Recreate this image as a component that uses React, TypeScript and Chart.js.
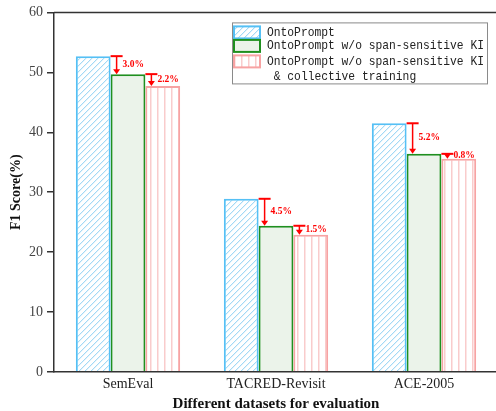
import React, { useEffect, useRef } from "react";
import { Chart, registerables } from "chart.js";

Chart.register(...registerables);

const categories = ["SemEval", "TACRED-Revisit", "ACE-2005"];
const ontoPrompt = [52.7, 28.9, 41.5];
const woSpan = [49.7, 24.4, 36.4];
const woSpanCollective = [47.7, 22.9, 35.6];
const drop1Labels = ["3.0%", "4.5%", "5.2%"];
const drop2Labels = ["2.2%", "1.5%", "0.8%"];
const seriesNames = [
  ["OntoPrompt"],
  ["OntoPrompt w/o span-sensitive KI"],
  ["OntoPrompt w/o span-sensitive KI", " & collective training"],
];
const yTicks = { min: 0, max: 60, step: 10 };

const BLUE = "#55c0f5";
const GREEN = "#1f8f1f";
const PINK = "#f7a3a3";

function makeHatch(): CanvasPattern | string {
  const s = 6;
  const c = document.createElement("canvas");
  c.width = s;
  c.height = s;
  const g = c.getContext("2d")!;
  g.fillStyle = "#ffffff";
  g.fillRect(0, 0, s, s);
  for (let x = 0; x < s; x++) {
    g.fillStyle = "#a3d9f5";
    g.fillRect(x, s - 1 - x, 1, 1);
    g.fillStyle = "#e4f4fc";
    g.fillRect((x + 1) % s, s - 1 - x, 1, 1);
  }
  return g.createPattern(c, "repeat") || "#ffffff";
}

function makeVLines(): CanvasPattern | string {
  const c = document.createElement("canvas");
  c.width = 7;
  c.height = 4;
  const g = c.getContext("2d")!;
  g.fillStyle = "#ffffff";
  g.fillRect(0, 0, 7, 4);
  g.fillStyle = "#f9cccc";
  g.fillRect(3, 0, 1.5, 4);
  return g.createPattern(c, "repeat") || "#ffffff";
}

export default function App() {
  const ref = useRef<HTMLCanvasElement | null>(null);

  useEffect(() => {
    if (!ref.current) return;
    const hatch = makeHatch();
    const vlines = makeVLines();
    const fills = [hatch, "#ebf3ea", vlines];
    const borders = [BLUE, GREEN, PINK];

    const dropPlugin = {
      id: "drops",
      afterDatasetsDraw(chart: any) {
        const ctx = chart.ctx;
        const pairs = [
          [0, 1, drop1Labels],
          [1, 2, drop2Labels],
        ] as const;
        ctx.save();
        for (const [a, b, labels] of pairs) {
          const ma = chart.getDatasetMeta(a);
          const mb = chart.getDatasetMeta(b);
          mb.data.forEach((bar: any, i: number) => {
            const prevY = ma.data[i].y;
            const y = bar.y;
            const left = bar.x - bar.width / 2;
            const ax = left + 6;
            ctx.strokeStyle = "#ff0000";
            ctx.fillStyle = "#ff0000";
            ctx.lineWidth = 2;
            ctx.beginPath();
            ctx.moveTo(left, prevY);
            ctx.lineTo(left + 12, prevY);
            ctx.stroke();
            ctx.lineWidth = 1.5;
            ctx.beginPath();
            ctx.moveTo(ax, prevY);
            ctx.lineTo(ax, y - 4);
            ctx.stroke();
            ctx.beginPath();
            ctx.moveTo(ax - 3.5, y - 5);
            ctx.lineTo(ax + 3.5, y - 5);
            ctx.lineTo(ax, y);
            ctx.closePath();
            ctx.fill();
            ctx.font = "bold 9.5px 'Liberation Serif'";
            ctx.textBaseline = "middle";
            ctx.textAlign = "left";
            ctx.fillText(labels[i], left + 12, (prevY + y) / 2 - 1);
          });
        }
        ctx.restore();
      },
    };

    const framePlugin = {
      id: "frame",
      afterDraw(chart: any) {
        const ctx = chart.ctx;
        const ca = chart.chartArea;
        ctx.save();
        ctx.strokeStyle = "#333333";
        ctx.lineWidth = 1.5;
        ctx.beginPath();
        ctx.moveTo(ca.left, ca.top);
        ctx.lineTo(ca.right, ca.top);
        ctx.stroke();

        // legend
        const bx = ca.left + 178;
        const by = ca.top + 10;
        const bw = 255;
        const bh = 61;
        ctx.fillStyle = "#ffffff";
        ctx.fillRect(bx, by, bw, bh);
        ctx.strokeStyle = "#8a8a8a";
        ctx.lineWidth = 1;
        ctx.strokeRect(bx + 0.5, by + 0.5, bw, bh);
        const rowY = [by + 10, by + 23.5, by + 39];
        const fontSize = 13;
        const sx = 11.3 / fontSize;
        ctx.textBaseline = "middle";
        ctx.textAlign = "left";
        seriesNames.forEach((lines, k) => {
          const sy = rowY[k] - 6;
          ctx.fillStyle = fills[k] as any;
          ctx.fillRect(bx + 2, sy, 26, 12);
          ctx.strokeStyle = borders[k];
          ctx.lineWidth = 2;
          ctx.strokeRect(bx + 2, sy, 26, 12);
          ctx.fillStyle = "#222222";
          lines.forEach((t, j) => {
            ctx.save();
            ctx.translate(bx + 35, rowY[k] + j * 15);
            ctx.scale(sx, 1);
            ctx.font = fontSize + "px 'Liberation Mono'";
            ctx.fillText(t, 0, 0);
            ctx.restore();
          });
        });
        ctx.restore();
      },
    };

    const chart = new Chart(ref.current, {
      type: "bar",
      data: {
        labels: categories,
        datasets: [ontoPrompt, woSpan, woSpanCollective].map((d, k) => ({
          label: seriesNames[k].join(""),
          data: d,
          backgroundColor: fills[k] as any,
          hoverBackgroundColor: fills[k] as any,
          borderColor: borders[k],
          borderWidth: 2,
          barPercentage: 1,
          categoryPercentage: 0.705,
        })),
      },
      options: {
        responsive: false,
        animation: false,
        events: [],
        layout: { padding: { top: 12, right: 12, left: 0, bottom: 0 } },
        plugins: {
          legend: { display: false },
          tooltip: { enabled: false },
        },
        scales: {
          x: {
            grid: { display: false, drawTicks: false },
            border: { display: true, color: "#333333", width: 1.5, z: 1 },
            ticks: {
              color: "#222222",
              font: { family: "'Liberation Serif'", size: 14 },
              padding: 4,
            },
            title: {
              display: true,
              text: "Different datasets for evaluation",
              color: "#111111",
              font: { family: "'Liberation Serif'", size: 15, weight: "bold" },
              padding: { top: 0, bottom: 7 },
            },
            afterFit(scale: any) {
              scale.height = 48;
            },
          },
          y: {
            min: yTicks.min,
            max: yTicks.max,
            grid: {
              display: true,
              drawOnChartArea: false,
              drawTicks: true,
              tickLength: 7,
              color: "#333333",
              lineWidth: 1.5,
            },
            border: { display: true, color: "#333333", width: 1.5, z: 1 },
            ticks: {
              stepSize: yTicks.step,
              color: "#444444",
              font: { family: "'Liberation Serif'", size: 14 },
              padding: 4,
            },
            title: {
              display: true,
              text: "F1 Score(%)",
              color: "#111111",
              font: { family: "'Liberation Serif'", size: 14, weight: "bold" },
              padding: { top: 8, bottom: 0 },
            },
            afterFit(scale: any) {
              scale.width = 54;
            },
          },
        },
      },
      plugins: [dropPlugin, framePlugin],
    });
    return () => chart.destroy();
  }, []);

  return (
    <div
      style={{
        position: "fixed",
        left: 0,
        top: 0,
        width: 496,
        height: 411,
        overflow: "hidden",
        background: "#ffffff",
      }}
    >
      <canvas ref={ref} width={510} height={420} style={{ display: "block" }} />
    </div>
  );
}
